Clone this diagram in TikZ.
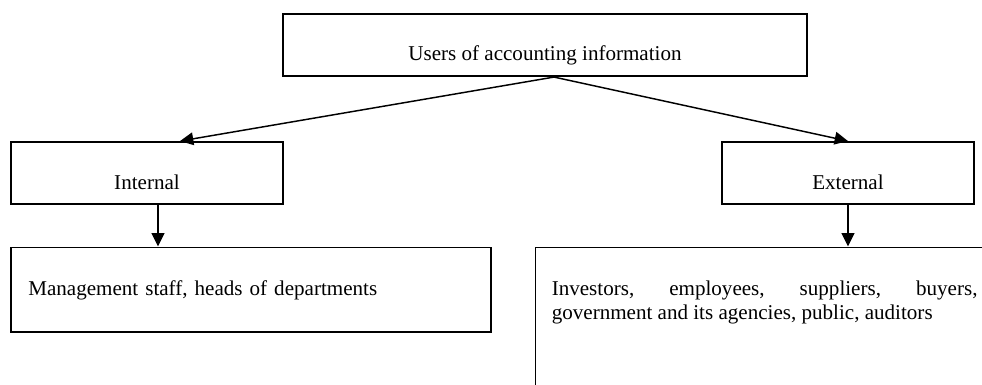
\documentclass[tikz,border=0pt]{standalone}
\usepackage{fontspec}
\setmainfont{Liberation Serif}
\usepackage{tikz}
\usetikzlibrary{positioning,arrows.meta}
\hyphenpenalty=10000
\tolerance=10000

\begin{document}
\begin{tikzpicture}[
  box/.style={rectangle, draw=black, line width=1.4pt, inner ysep=0pt,
              font=\fontsize{15.8pt}{18pt}\selectfont,
              text height=35.3pt, text depth=11.4pt, align=center},
  listbox/.style={rectangle, draw=black, line width=1.4pt, inner ysep=0pt,
                  font=\fontsize{15.8pt}{18pt}\selectfont, text height=36pt},
  ea/.style={-{Triangle[length=10pt,width=9.5pt]}, line width=1.1pt},
]

\useasboundingbox (-408.75pt,-255pt) rectangle (327.75pt,33.75pt);
\clip (-408.75pt,-255pt) rectangle (327.75pt,33.75pt);

\node[box, minimum width=393pt] (users) {Users of accounting information};

\node[box, minimum width=204pt, below=48pt of users.south, xshift=-298.5pt] (internal) {Internal};
\node[box, minimum width=189pt, below=48pt of users.south, xshift= 227.25pt] (external) {External};

\node[listbox, text width=334pt, inner xsep=13pt, text depth=27.2pt, align=left,
      below right=31pt and 0pt of internal.south west] (mgmt)
      {Management staff, heads of departments};
\node[listbox, text width=319.3pt, inner xsep=12.2pt, text depth=150pt, align=justify,
      below right=0pt and 32pt of mgmt.north east] (extusers)
      {Investors, employees, suppliers, buyers, government and its agencies, public, auditors};

\foreach \n/\dx in {internal/24.75pt, external/0pt}
  \draw[ea] ([xshift=6.75pt]users.south) -- ([xshift=\dx]\n.north);
\draw[ea] ([xshift=8.25pt]internal.south) -- ([xshift=8.25pt]internal.south |- mgmt.north);
\draw[ea] (external.south) -- (external.south |- extusers.north);

\end{tikzpicture}
\end{document}
